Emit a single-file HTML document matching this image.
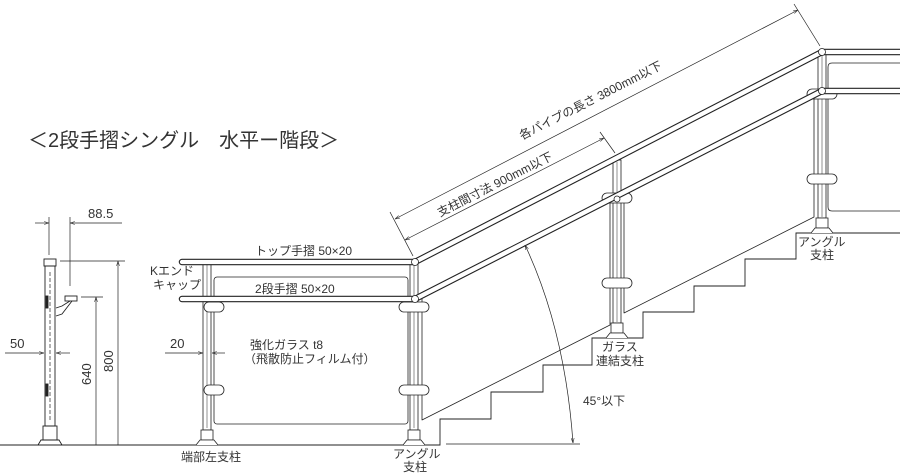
<!DOCTYPE html>
<html><head><meta charset="utf-8"><style>
html,body{margin:0;padding:0;background:#fff}
svg{display:block}
text{font-family:"Liberation Sans","Noto Sans CJK JP",sans-serif;fill:#333}
</style></head><body>
<svg width="900" height="476" viewBox="0 0 900 476" xmlns="http://www.w3.org/2000/svg">
<defs>
<marker id="a" viewBox="0 0 10 10" refX="10" refY="5" markerWidth="7" markerHeight="7" orient="auto-start-reverse"><path d="M0,2 L10,5 L0,8" fill="none" stroke="#333" stroke-width="1.2"/></marker>
</defs>
<text x="28" y="147" font-size="20" fill="#555">＜2段手摺シングル　水平ー階段＞</text>

<g stroke="#222" fill="none" stroke-width="0.9">
<path d="M0,445 H440 V419 H491 V392 H543 V365 H592 V338 H643 V312 H694 V286 H745 V259 H796 V233 H900"/>
<path d="M446,444 H580" stroke-width="0.8"/>

<rect x="44" y="259" width="12" height="7" fill="#fff"/>
<rect x="45" y="266" width="10" height="160"/>
<line x1="50" y1="272" x2="50" y2="420" stroke-dasharray="4,2" stroke-width="0.7"/>
<rect x="43" y="426" width="14" height="14"/>
<path d="M38,445 L41,440 H59 L62,445"/>
<rect x="46" y="296" width="2" height="12" fill="#222"/><rect x="46" y="384" width="2" height="12" fill="#222"/>
<rect x="65" y="296" width="12" height="5"/>
<path d="M56,308 L62,306 L70,301 M56,316 L62,314 L72,301"/>

<g stroke-width="0.7">
<line x1="49" y1="217" x2="49" y2="255"/><line x1="70" y1="217" x2="70" y2="286"/>
<line x1="35" y1="223" x2="49" y2="223" marker-end="url(#a)"/><line x1="122" y1="223" x2="70" y2="223" marker-end="url(#a)"/>
<line x1="60" y1="261" x2="125" y2="261"/><line x1="81" y1="297" x2="103" y2="297"/>
<line x1="118" y1="261" x2="118" y2="445" marker-start="url(#a)"/>
<line x1="96" y1="297" x2="96" y2="445" marker-start="url(#a)"/>
<line x1="5" y1="353" x2="44" y2="353" marker-end="url(#a)"/><line x1="70" y1="353" x2="56" y2="353" marker-end="url(#a)"/>
<line x1="165" y1="353" x2="203" y2="353" marker-end="url(#a)"/><line x1="225" y1="353" x2="212" y2="353" marker-end="url(#a)"/>
</g>

<g stroke-width="0.8">
<rect x="214" y="277" width="194" height="147" rx="3"/>
<path d="M900,63 H832 Q828,63 828,67 V207 Q828,211 832,211 H900"/>
<path d="M422,296 L610,199 V325 L422,420 Z" stroke-linejoin="round"/>
<path d="M624,192 L814,94 V217 L624,313 Z" stroke-linejoin="round"/>
</g>

<g fill="#fff" stroke-width="0.8">
<rect x="203" y="262" width="8" height="168"/><rect x="201" y="430" width="12" height="10"/>
<path d="M196,445 L200,440 H214 L218,445"/>
<rect x="410" y="262" width="8" height="168"/><rect x="408" y="430" width="12" height="10"/>
<path d="M403,445 L407,440 H421 L425,445"/>
<rect x="613" y="160" width="8" height="163"/><rect x="611" y="323" width="12" height="10"/>
<path d="M606,338 L610,333 H624 L628,338"/>
<rect x="818" y="52" width="8" height="166"/><rect x="816" y="218" width="12" height="10"/>
<path d="M811,233 L815,228 H829 L833,233"/>
</g>
<g stroke-width="0.5"><line x1="207" y1="264" x2="207" y2="428"/><line x1="414" y1="264" x2="414" y2="428"/><line x1="617" y1="162" x2="617" y2="322"/><line x1="822" y1="54" x2="822" y2="217"/></g>
<g fill="#fff" stroke-width="0.8">
<rect x="204" y="302" width="20" height="10" rx="5"/><rect x="204" y="385" width="20" height="10" rx="5"/>
<rect x="399" y="302" width="30" height="10" rx="5"/><rect x="399" y="385" width="30" height="10" rx="5"/>
<rect x="602" y="193" width="30" height="10" rx="5"/><rect x="602" y="278" width="30" height="10" rx="5"/>
<rect x="807" y="89" width="30" height="10" rx="5"/><rect x="807" y="174" width="30" height="10" rx="5"/>
</g>

<g stroke-linecap="round">
<path d="M182,262 H415 L822,52 H900" stroke="#222" stroke-width="6.5"/>
<path d="M182,262 H415 L822,52 H900" stroke="#fff" stroke-width="4.3"/>
<path d="M182,299 H415 L822,91 H900" stroke="#222" stroke-width="6.5"/>
<path d="M182,299 H415 L822,91 H900" stroke="#fff" stroke-width="4.3"/>
</g>
<g fill="#fff" stroke-width="0.8"><circle cx="415" cy="262" r="3.5"/><circle cx="415" cy="299" r="3.5"/><circle cx="822" cy="52" r="3.5"/><circle cx="822" cy="91" r="3.5"/><circle cx="617" cy="199" r="3"/></g>

<g stroke-width="0.7">
<line x1="413" y1="256" x2="390" y2="212"/><line x1="820" y1="46" x2="794" y2="4"/>
<line x1="395" y1="219" x2="798" y2="10" marker-start="url(#a)" marker-end="url(#a)"/>
<line x1="615" y1="153" x2="600" y2="132"/>
<line x1="405" y1="240" x2="604" y2="138" marker-start="url(#a)" marker-end="url(#a)"/>
<path d="M525,245 Q565,330 573,443" marker-start="url(#a)" marker-end="url(#a)"/>
</g>
</g>

<g font-size="12">
<text x="255" y="255">トップ手摺 50×20</text>
<text x="255" y="293">2段手摺 50×20</text>
<text x="150" y="275">Kエンド</text>
<text x="153" y="289">キャップ</text>
<text x="250" y="349">強化ガラス t8</text>
<text x="244" y="363">（飛散防止フィルム付）</text>
<text x="181" y="461">端部左支柱</text>
<text x="393" y="458">アングル</text><text x="403" y="471">支柱</text>
<text x="602" y="351">ガラス</text><text x="596" y="365">連結支柱</text>
<text x="583" y="405">45°以下</text>
<text x="798" y="246">アングル</text><text x="810" y="259">支柱</text>
<text x="10" y="348" font-size="13">50</text>
<text x="170" y="348" font-size="13">20</text>
<text x="88" y="218" font-size="13">88.5</text>
<text transform="translate(113,372) rotate(-90)" font-size="13">800</text>
<text transform="translate(91,385) rotate(-90)" font-size="13">640</text>
<text transform="translate(522,140) rotate(-27)" font-size="12">各パイプの長さ 3800mm以下</text>
<text transform="translate(440,217) rotate(-27)" font-size="12">支柱間寸法 900mm以下</text>
</g>
</svg>
</body></html>
